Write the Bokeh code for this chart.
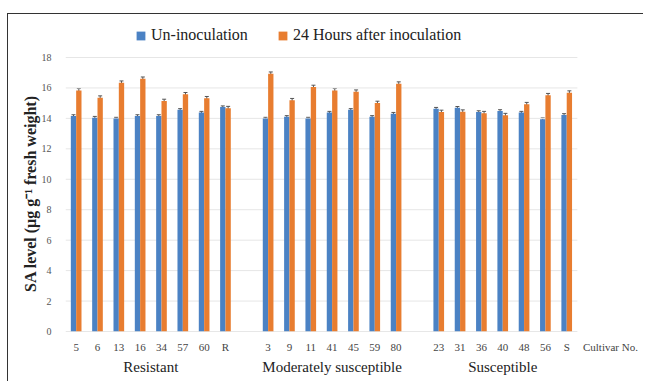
from bokeh.plotting import figure
from bokeh.models import (ColumnDataSource, FixedTicker, LinearAxis,
                          Legend, LegendItem, Whisker, Range1d)
from bokeh.embed import file_html
from bokeh.resources import INLINE

# ---- data ----
groups = ["Resistant", "Moderately susceptible", "Susceptible"]
cultivars_res = ["5", "6", "13", "16", "34", "57", "60", "R"]
cultivars_mod = ["3", "9", "11", "41", "45", "59", "80"]
cultivars_sus = ["23", "31", "36", "40", "48", "56", "S"]

un_res = [14.16, 14.05, 13.99, 14.16, 14.16, 14.56, 14.38, 14.74]
un_mod = [13.99, 14.10, 13.99, 14.38, 14.56, 14.10, 14.31]
un_sus = [14.64, 14.70, 14.42, 14.49, 14.38, 13.95, 14.23]

hai_res = [15.84, 15.36, 16.34, 16.60, 15.14, 15.58, 15.32, 14.67]
hai_mod = [16.93, 15.19, 16.06, 15.84, 15.75, 15.01, 16.28]
hai_sus = [14.42, 14.44, 14.34, 14.21, 14.93, 15.52, 15.69]

err_un = 0.08
err_hai = 0.12

y_ticks = [0, 2, 4, 6, 8, 10, 12, 14, 16, 18]
x_title = "Cultivar No."

# ---- layout of categories (one empty slot between groups) ----
cultivar_groups = [cultivars_res, cultivars_mod, cultivars_sus]
un_groups = [un_res, un_mod, un_sus]
hai_groups = [hai_res, hai_mod, hai_sus]

xs, names, un_vals, hai_vals, group_centers = [], [], [], [], []
pos = 0
for cg, ug, hg in zip(cultivar_groups, un_groups, hai_groups):
    start = pos
    for c, u, h in zip(cg, ug, hg):
        xs.append(pos); names.append(c); un_vals.append(u); hai_vals.append(h)
        pos += 1
    group_centers.append((start + pos - 1) / 2)
    pos += 1  # gap slot

x_lo, x_hi = -0.5, xs[-1] + 0.5          # extent of the bar area
title_pos = xs[-1] + 2.05                  # "Cultivar No." tick position
x_end = xs[-1] + 3.6                       # extra room for the title
slot_px = 21.33
unit_px = 274 / y_ticks[-1]
legend_room = 30                           # px above the top grid line for the legend
y_end = y_ticks[-1] + legend_room / unit_px
frame_w = int(round((x_end - x_lo) * slot_px))
frame_h = int(round(y_end * unit_px))

bw = 0.25
src = ColumnDataSource(dict(
    x_un=[x - bw / 2 for x in xs], x_hai=[x + bw / 2 for x in xs],
    un=un_vals, hai=hai_vals,
    un_lo=[v - err_un for v in un_vals], un_hi=[v + err_un for v in un_vals],
    hai_lo=[v - err_hai for v in hai_vals], hai_hi=[v + err_hai for v in hai_vals],
))

BLUE = "#4b82c4"
ORANGE = "#e87d30"
SERIF = "Liberation Serif"

p = figure(frame_width=frame_w, frame_height=frame_h,
           min_border_left=57, min_border_right=0, min_border_top=13, min_border_bottom=50,
           x_range=Range1d(x_lo, x_end), y_range=Range1d(0, y_end),
           output_backend="svg", toolbar_location=None, margin=(13, 0, 0, 7))
p.styles = {"border-top": "1.5px solid #333", "border-left": "1.5px solid #333"}
p.outline_line_color = None
p.background_fill_color = "white"

# grid lines limited to the bar area
grid_src = ColumnDataSource(dict(x0=[x_lo] * len(y_ticks), x1=[x_hi] * len(y_ticks),
                                 y=y_ticks,
                                 c=["#cfcfcf" if t == 0 else "#e6e6e6" for t in y_ticks]))
p.segment(x0="x0", y0="y", x1="x1", y1="y", source=grid_src, line_color="c", line_width=1)

r_un = p.vbar(x="x_un", top="un", width=bw, source=src, color=BLUE, line_color=None)
r_hai = p.vbar(x="x_hai", top="hai", width=bw, source=src, color=ORANGE, line_color=None)

for base, lo, hi in (("x_un", "un_lo", "un_hi"), ("x_hai", "hai_lo", "hai_hi")):
    w = Whisker(base=base, lower=lo, upper=hi, source=src, line_color="#555", line_width=1)
    w.upper_head.size = 4
    w.lower_head.size = 4
    w.upper_head.line_color = "#555"
    w.lower_head.line_color = "#555"
    p.add_layout(w)

# x axis: cultivar numbers + title
p.xaxis.ticker = FixedTicker(ticks=xs + [title_pos])
overrides = {x: n for x, n in zip(xs, names)}
overrides[title_pos] = x_title
p.xaxis.major_label_overrides = overrides
p.xaxis.major_tick_line_color = None
p.xaxis.major_tick_out = 0
p.xaxis.major_tick_in = 0
p.xaxis.minor_tick_line_color = None
p.xaxis.axis_line_color = None
p.xaxis.major_label_standoff = 9
p.xaxis.major_label_text_font = SERIF
p.xaxis.major_label_text_font_size = "11px"
p.xaxis.major_label_text_color = "#444444"
p.xgrid.grid_line_color = None
p.ygrid.grid_line_color = None

# group axis
gaxis = LinearAxis(ticker=FixedTicker(ticks=group_centers),
                   major_label_overrides={c: g for c, g in zip(group_centers, groups)},
                   axis_line_color=None, major_tick_line_color=None, minor_tick_line_color=None,
                   major_tick_out=0, major_tick_in=0,
                   major_label_standoff=3, major_label_text_font=SERIF,
                   major_label_text_font_size="15px", major_label_text_color="#222222")
p.add_layout(gaxis, "below")

p.yaxis.ticker = FixedTicker(ticks=y_ticks)
p.yaxis.axis_line_color = None
p.yaxis.major_tick_line_color = None
p.yaxis.minor_tick_line_color = None
p.yaxis.major_label_standoff = 8
p.yaxis.major_label_text_font = SERIF
p.yaxis.major_label_text_font_size = "10px"
p.yaxis.major_label_text_color = "#555555"
p.yaxis.axis_label = "SA level  (\u03bcg g\u207b\u00b9 fresh weight)" + "\u00a0" * 6
p.yaxis.axis_label_text_font = SERIF
p.yaxis.axis_label_text_font_size = "16px"
p.yaxis.axis_label_text_font_style = "bold"
p.yaxis.axis_label_text_color = "#222222"
p.yaxis.axis_label_standoff = 0

legend = Legend(items=[LegendItem(label="Un-inoculation", renderers=[r_un]),
                       LegendItem(label="24 Hours after inoculation", renderers=[r_hai])],
                orientation="horizontal", location=(70, frame_h - 17), padding=0, margin=0,
                spacing=29, glyph_width=11, glyph_height=11, label_height=16,
                label_standoff=5, label_text_font=SERIF, label_text_font_size="16px",
                label_text_color="#222222", border_line_color=None,
                background_fill_alpha=0)
p.add_layout(legend, "center")

open("out.html", "w").write(file_html(p, INLINE))
